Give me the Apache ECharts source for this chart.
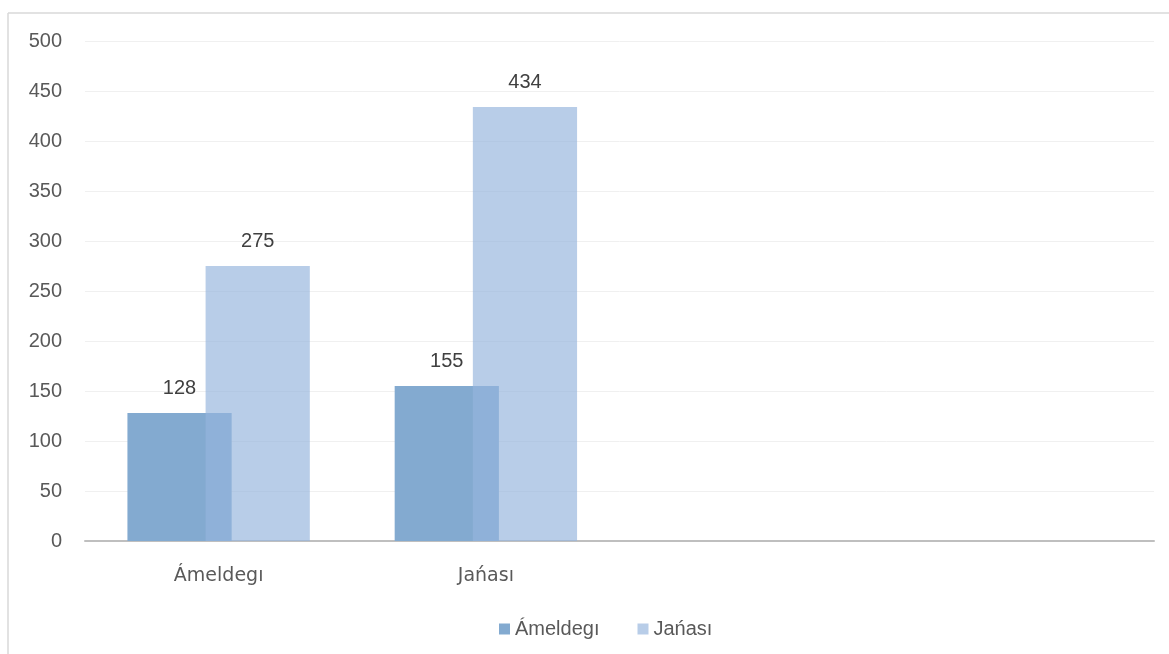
<!DOCTYPE html>
<html>
<head>
<meta charset="utf-8">
<script src="https://cdn.jsdelivr.net/npm/echarts@6/dist/echarts.min.js"></script>
<style>
html,body{margin:0;padding:0;background:#fff;}
#chart{width:1169px;height:654px;}
</style>
</head>
<body>
<div id="chart"></div>
<script>
var categories = ['Ámeldegı', 'Jańası', '', ''];
var seriesNames = ['Ámeldegı', 'Jańası'];
var valuesAmeldegi = [128, 155, null, null];
var valuesJanasi = [275, 434, null, null];
var yTicks = { min: 0, max: 500, interval: 50 };

var chart = echarts.init(document.getElementById('chart'), null, { renderer: 'canvas' });
var font = '"Liberation Sans", Arial, sans-serif';
var wideFont = '"DejaVu Sans", sans-serif';
chart.setOption({
  backgroundColor: '#ffffff',
  animation: false,
  textStyle: { fontFamily: font },
  graphic: [
    { type: 'line', shape: { x1: 8, y1: 13, x2: 1169, y2: 13 }, style: { stroke: '#d9d9d9', lineWidth: 1.5 }, silent: true },
    { type: 'line', shape: { x1: 8, y1: 13, x2: 8, y2: 654 }, style: { stroke: '#d9d9d9', lineWidth: 1.5 }, silent: true }
  ],
  grid: { left: 85, right: 15, top: 41, bottom: 113, containLabel: false },
  legend: {
    bottom: 10,
    left: 494,
    itemWidth: 11,
    itemHeight: 11,
    itemGap: 38,
    icon: 'rect',
    textStyle: { color: '#595959', fontSize: 20, fontFamily: font },
    data: seriesNames
  },
  xAxis: {
    type: 'category',
    data: categories,
    axisLine: { show: true, lineStyle: { color: '#bfbfbf', width: 2 } },
    axisTick: { show: false },
    axisLabel: { color: '#595959', fontSize: 19, margin: 26, fontFamily: wideFont },
    splitLine: { show: false }
  },
  yAxis: {
    type: 'value',
    min: yTicks.min,
    max: yTicks.max,
    interval: yTicks.interval,
    axisLine: { show: false },
    axisTick: { show: false },
    axisLabel: { color: '#595959', fontSize: 20, margin: 23, fontFamily: font },
    splitLine: { lineStyle: { color: '#f0f0f0', width: 1 } }
  },
  series: [
    {
      name: seriesNames[0],
      type: 'bar',
      data: valuesAmeldegi,
      barWidth: '39%',
      barGap: '-25%',
      itemStyle: { color: '#83aad0' },
      label: { show: true, position: 'top', distance: 15, color: '#404040', fontSize: 20, fontFamily: font }
    },
    {
      name: seriesNames[1],
      type: 'bar',
      data: valuesJanasi,
      barWidth: '39%',
      itemStyle: { color: 'rgba(149,180,221,0.67)' },
      label: { show: true, position: 'top', distance: 15, color: '#404040', fontSize: 20, fontFamily: font }
    }
  ]
});
</script>
</body>
</html>
